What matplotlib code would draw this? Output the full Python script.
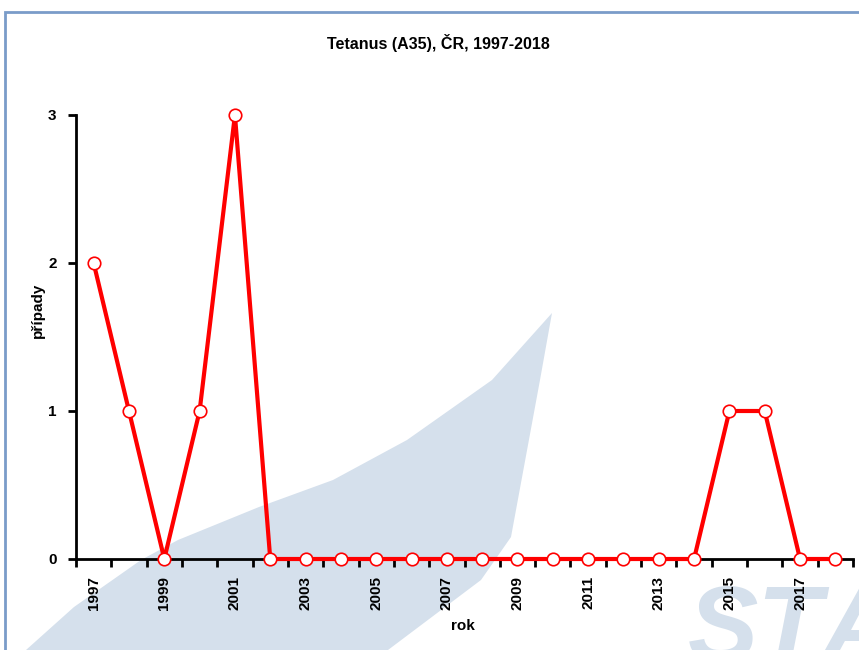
import matplotlib.pyplot as plt
from matplotlib.patches import Polygon, Rectangle
import numpy as np

# data
years = list(range(1997, 2019))
cases = [2, 1, 0, 1, 3, 0, 0, 0, 0, 0, 0, 0, 0, 0, 0, 0, 0, 0, 1, 1, 0, 0]
labels = [str(y) if (y - 1997) % 2 == 0 else "" for y in years]

plt.rcParams['font.family'] = ['Liberation Sans', 'DejaVu Sans']
W, H = 859, 650
fig = plt.figure(figsize=(W / 100, H / 100), dpi=100)

# background decorations (pixel coordinates -> figure fractions)
def fp(x, y):
    return (x / W, 1 - y / H)

outer = [(552, 313), (492, 380), (407, 440), (333, 480), (259, 507), (178, 540),
         (141, 560), (74, 607), (26, 650)]
inner = [(388, 650), (481, 580), (511, 537), (540, 380)]
swoosh = Polygon([fp(*p) for p in outer + inner], closed=True, transform=fig.transFigure,
                 facecolor='#d5e0ec', edgecolor='none', zorder=-2)
fig.patches.append(swoosh)
fig.text(688 / W, -0.016, "STÁ", fontsize=76, fontweight='bold', style='italic',
         color='#d5e0ec', ha='left', va='baseline', zorder=-2)
frame = Rectangle(fp(5, 700), 1.2, (700 - 12) / H, transform=fig.transFigure,
                  facecolor='none', edgecolor='#7a9cc9', linewidth=2, zorder=-1)
fig.patches.append(frame)

ax = fig.add_axes([76 / W, 1 - 559 / H, (853 - 76) / W, (559 - 115) / H])
ax.patch.set_alpha(0)
x = np.arange(len(years))
ax.plot(x, cases, color='red', linewidth=3, marker='o', markersize=9,
        markerfacecolor='white', markeredgecolor='red', markeredgewidth=1.2,
        clip_on=False, zorder=5)

ax.set_xlim(-0.5, len(years) - 0.5)
ax.set_ylim(0, 3)
ax.set_yticks([0, 1, 2, 3])
ax.set_xticks(np.arange(-0.5, len(years), 1.0))
ax.set_xticklabels([])
ax.set_xticks(x, minor=True)
ax.set_xticklabels(labels, minor=True, rotation=90, fontsize=11, fontweight='bold')
ax.tick_params(axis='x', which='minor', length=0, pad=12)
ax.tick_params(axis='x', which='major', length=6, width=2, direction='out')
ax.tick_params(axis='y', length=6, width=2, labelsize=11, pad=8)
for t in ax.get_yticklabels():
    t.set_fontweight('bold')
for s in ['top', 'right']:
    ax.spines[s].set_visible(False)
for s in ['left', 'bottom']:
    ax.spines[s].set_linewidth(2)

fig.text(438 / W, 1 - 43 / H, "Tetanus (A35), ČR, 1997-2018",
         ha='center', va='center', fontsize=11.5, fontweight='bold')
fig.text(463 / W, 1 - 626 / H, "rok", ha='center', va='center', fontsize=11, fontweight='bold')
fig.text(38 / W, 1 - 310 / H, "případy", ha='center', va='center', rotation=90,
         fontsize=11, fontweight='bold')

fig.savefig("out.png", dpi=100)
